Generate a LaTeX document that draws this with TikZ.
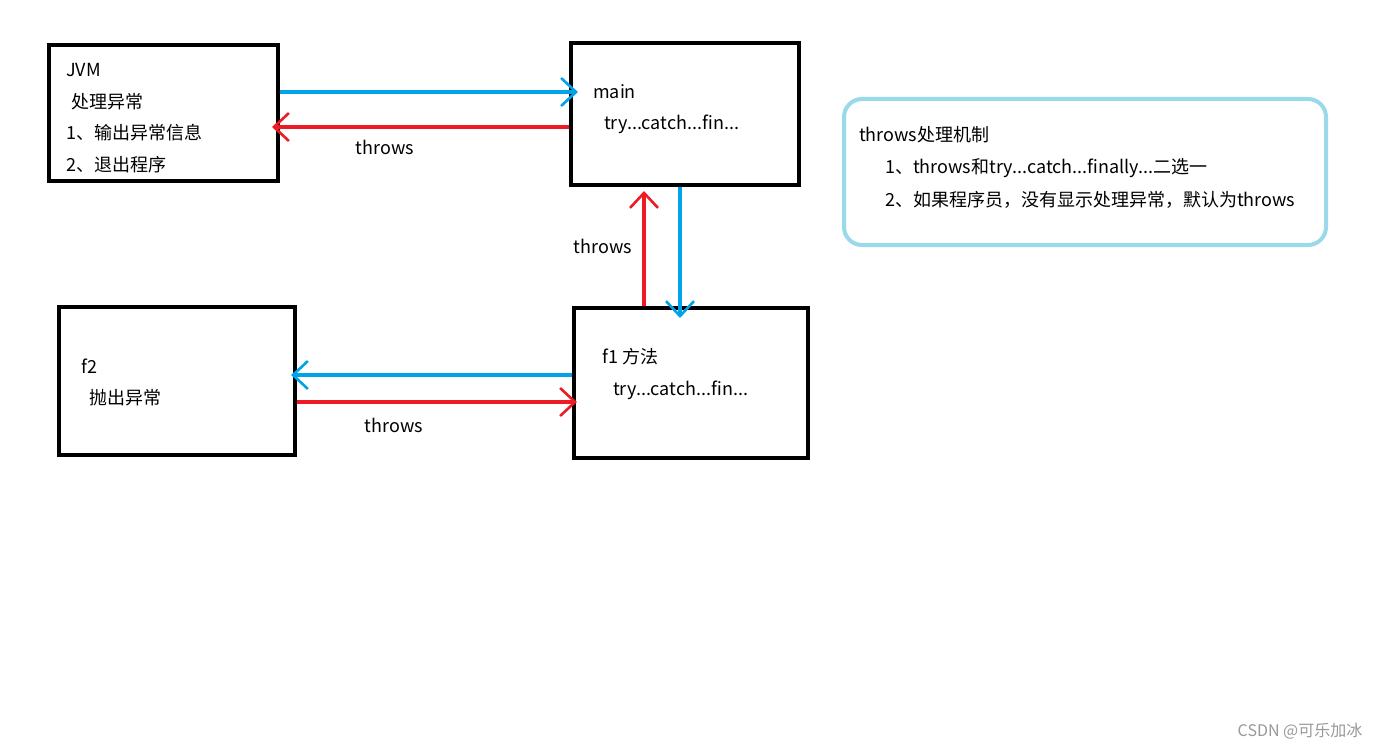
\documentclass[tikz,border=0pt]{standalone}
\usepackage{fontspec}
\newfontfamily\cjk{Noto Sans CJK SC}
\usetikzlibrary{arrows.meta}
\definecolor{paintBlue}{HTML}{00A2E8}
\definecolor{paintRed}{HTML}{ED1C24}
\definecolor{noteBlue}{HTML}{99D9EA}

\begin{document}
\begin{tikzpicture}[x=1pt, y=-1pt,
    every node/.style={font=\cjk\fontsize{18}{21}\selectfont},
    box/.style={draw, line width=4pt},
    txt/.style={anchor=west, inner sep=0pt},
    lbl/.style={black, inner sep=0pt},
    blueline/.style={paintBlue, line width=4pt, -{Straight Barb[length=15pt, width=28pt, line width=2.6pt]}},
    redline/.style={paintRed, line width=4pt, -{Straight Barb[length=15pt, width=28pt, line width=2.6pt]}}]
    \useasboundingbox[fill=white] (0,0) rectangle (1395,749);
    \node[box, minimum width=229, minimum height=136] (jvm) at (163.5,113) {};
    \node[box, minimum width=228, minimum height=142] (main) at (685,114) {};
    \node[box, minimum width=236, minimum height=148] (f2) at (177,381) {};
    \node[box, minimum width=234, minimum height=150] (f1) at (691,383) {};
    \node[draw=noteBlue, line width=4pt, rounded corners=18, minimum width=482, minimum height=146] (note) at (1085,172) {};

    \node[txt] (jvmA) at (66,70) {JVM};
    \node[txt] (jvmB) at (71,102) {处理异常};
    \node[txt] (jvmC) at (66,133) {1、输出异常信息};
    \node[txt] (jvmD) at (66,165) {2、退出程序};
    \node[txt] (mainA) at (593,92) {main};
    \node[txt] (mainB) at (604,124) {try...catch...fin...};
    \node[txt] (f2A) at (81,366) {f2};
    \node[txt] (f2B) at (89,398) {抛出异常};
    \node[txt] (f1A) at (602,357) {f1 方法};
    \node[txt] (f1B) at (613,390) {try...catch...fin...};
    \node[txt] (noteA) at (859,135) {throws处理机制};
    \node[txt] (noteB) at (885,168) {1、throws和try...catch...finally...二选一};
    \node[txt] (noteC) at (885,200) {2、如果程序员，没有显示处理异常，默认为throws};

    \draw[blueline] ([yshift=21pt]jvm.east) -- ([xshift=9pt, yshift=22pt]main.west);
    \draw[redline] ([yshift=-13pt]main.west) -- ([xshift=-8pt, yshift=-14pt]jvm.east);
    \draw[redline] ([xshift=-47pt]f1.north) -- ([xshift=-41pt, yshift=-4pt]main.south);
    \draw[blueline] ([xshift=-5pt]main.south) -- ([xshift=-11pt, yshift=-12pt]f1.north);
    \draw[blueline] ([yshift=8pt]f1.west) -- ([xshift=-6pt, yshift=6pt]f2.east);
    \draw[redline] ([yshift=-21pt]f2.east) -- ([xshift=5pt, yshift=-19pt]f1.west);
    \node[lbl] (t1) at (385,147) {throws};
    \node[lbl] (t2) at (603,246) {throws};
    \node[lbl] (t3) at (394,425) {throws};

    \node[gray!80, font=\cjk\fontsize{16}{19}\selectfont] (mark) at (1300,731) {CSDN @可乐加冰};
\end{tikzpicture}
\end{document}
